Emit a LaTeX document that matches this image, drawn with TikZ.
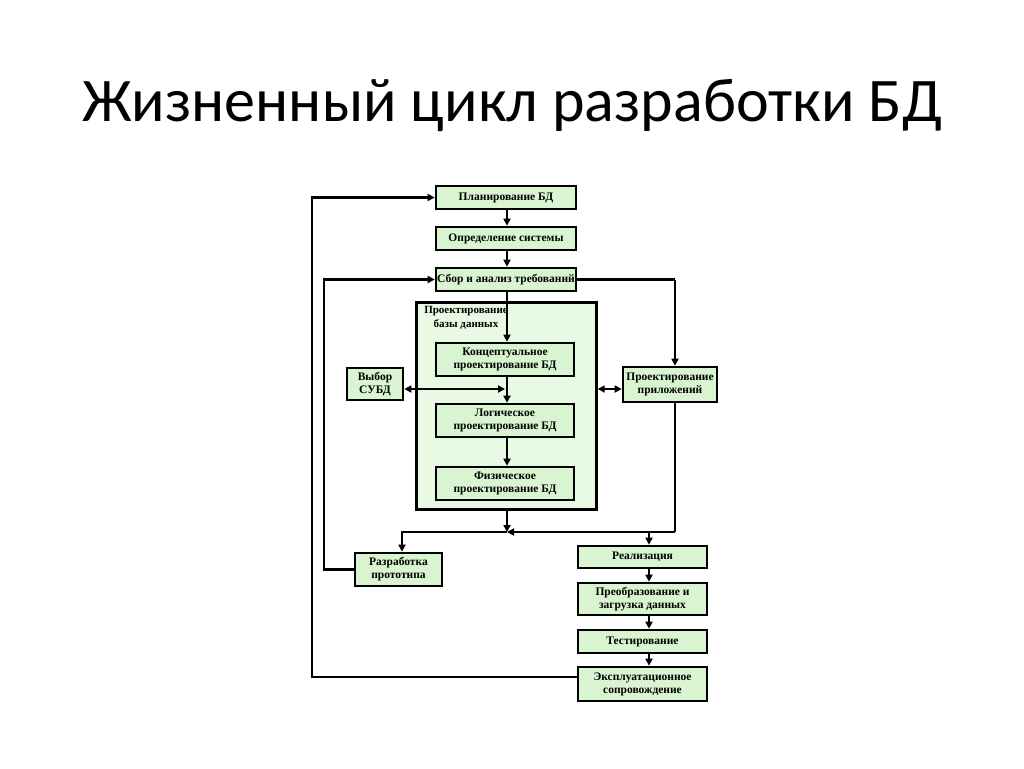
\documentclass[tikz,border=0pt]{standalone}
\usepackage{fontspec}
\setmainfont{Liberation Serif}
\newfontfamily\titlefont{Carlito}
\usetikzlibrary{arrows.meta}
\definecolor{boxgreen}{RGB}{216,244,208}
\definecolor{contgreen}{RGB}{232,249,228}
\tikzset{
  stage/.style={draw=black, line width=2.6pt, fill=boxgreen, inner sep=0pt, align=center,
     font=\fontsize{11.5}{13}\selectfont\bfseries},
  conn/.style={line width=2.4pt, -{Triangle[length=7pt,width=7pt]}},
  dconn/.style={line width=2.4pt, {Triangle[length=7pt,width=7pt]}-{Triangle[length=7pt,width=7pt]}},
  line/.style={line width=2.4pt}
}
\begin{document}
\begin{tikzpicture}[x=1pt,y=-1pt]
\useasboundingbox (0,0) rectangle (1024,768);
\node[font=\titlefont\fontsize{62}{70}\selectfont] (title) at (512,105) {Жизненный цикл разработки БД};
\node[draw=black, line width=2.4pt, fill=contgreen, minimum width=180pt, minimum height=207pt, inner sep=0pt] (cont) at (506.5,406) {};
\node[anchor=north, align=center, font=\fontsize{11}{14}\selectfont\bfseries, inner sep=0pt] (contlbl) at (466,306) {Проектирование\\базы данных};
\node[stage, minimum width=140pt, minimum height=23pt] (plan) at (506,197.5) {Планирование БД};
\node[stage, minimum width=140pt, minimum height=23pt] (opr) at (506,238.5) {Определение системы};
\node[stage, minimum width=140pt, minimum height=23pt] (sbor) at (506,279.5) {Сбор и анализ требований};
\node[stage, minimum width=138pt, minimum height=33pt] (konc) at (505,359.5) {Концептуальное\\проектирование БД};
\node[stage, minimum width=138pt, minimum height=33pt] (log) at (505,420.5) {Логическое\\проектирование БД};
\node[stage, minimum width=138pt, minimum height=33pt] (fiz) at (505,483.5) {Физическое\\проектирование БД};
\node[stage, minimum width=56pt, minimum height=32pt] (subd) at (375,384) {Выбор\\СУБД};
\node[stage, minimum width=94pt, minimum height=35pt] (app) at (670,384.5) {Проектирование\\приложений};
\node[stage, minimum width=87pt, minimum height=33pt] (razr) at (398.5,569.5) {Разработка\\прототипа};
\node[stage, minimum width=129pt, minimum height=22pt] (real) at (642.5,557) {Реализация};
\node[stage, minimum width=129pt, minimum height=32pt] (preob) at (642.5,599) {Преобразование и\\загрузка данных};
\node[stage, minimum width=129pt, minimum height=23pt] (test) at (642.5,641.5) {Тестирование};
\node[stage, minimum width=129pt, minimum height=34pt] (expl) at (642.5,684) {Эксплуатационное\\сопровождение};
% coordinates
\coordinate (j) at (507,532);
\coordinate (jr) at (675,532);
\coordinate (mid) at (505,389);
% main column
\draw[conn] (plan.south -| 507,0) -- (opr.north -| 507,0);
\draw[conn] (opr.south -| 507,0) -- (sbor.north -| 507,0);
\draw[conn] (sbor.south -| 507,0) -- (konc.north -| 507,0);
\draw[conn] (konc.south -| 507,0) -- (log.north -| 507,0);
\draw[conn] (log.south -| 507,0) -- (fiz.north -| 507,0);
\draw[dconn] (subd.east |- mid) -- (mid);
\draw[dconn] (cont.east |- mid) -- (app.west |- mid);
\draw[line] (sbor.east) -- (sbor.east -| app.north -| 675,0) coordinate (sr);
\draw[conn] (sr) -- (app.north -| 675,0);
\draw[line] (app.south -| 675,0) -- (jr);
\draw[conn] (jr) -- (j);
\draw[conn] (cont.south -| j) -- (j);
\draw[conn] (j) -| (razr.north -| 402,0);
\draw[conn] (j -| 649,0) -- (real.north -| 649,0);
\draw[conn] (real.south -| 649,0) -- (preob.north -| 649,0);
\draw[conn] (preob.south -| 649,0) -- (test.north -| 649,0);
\draw[conn] (test.south -| 649,0) -- (expl.north -| 649,0);
% feedback loops
\draw[conn] (razr.west) -- (razr.west -| 324,0) |- (sbor.west);
\draw[conn] (expl.west |- 0,677) -- (312,677) |- (plan.west);
\end{tikzpicture}
\end{document}
